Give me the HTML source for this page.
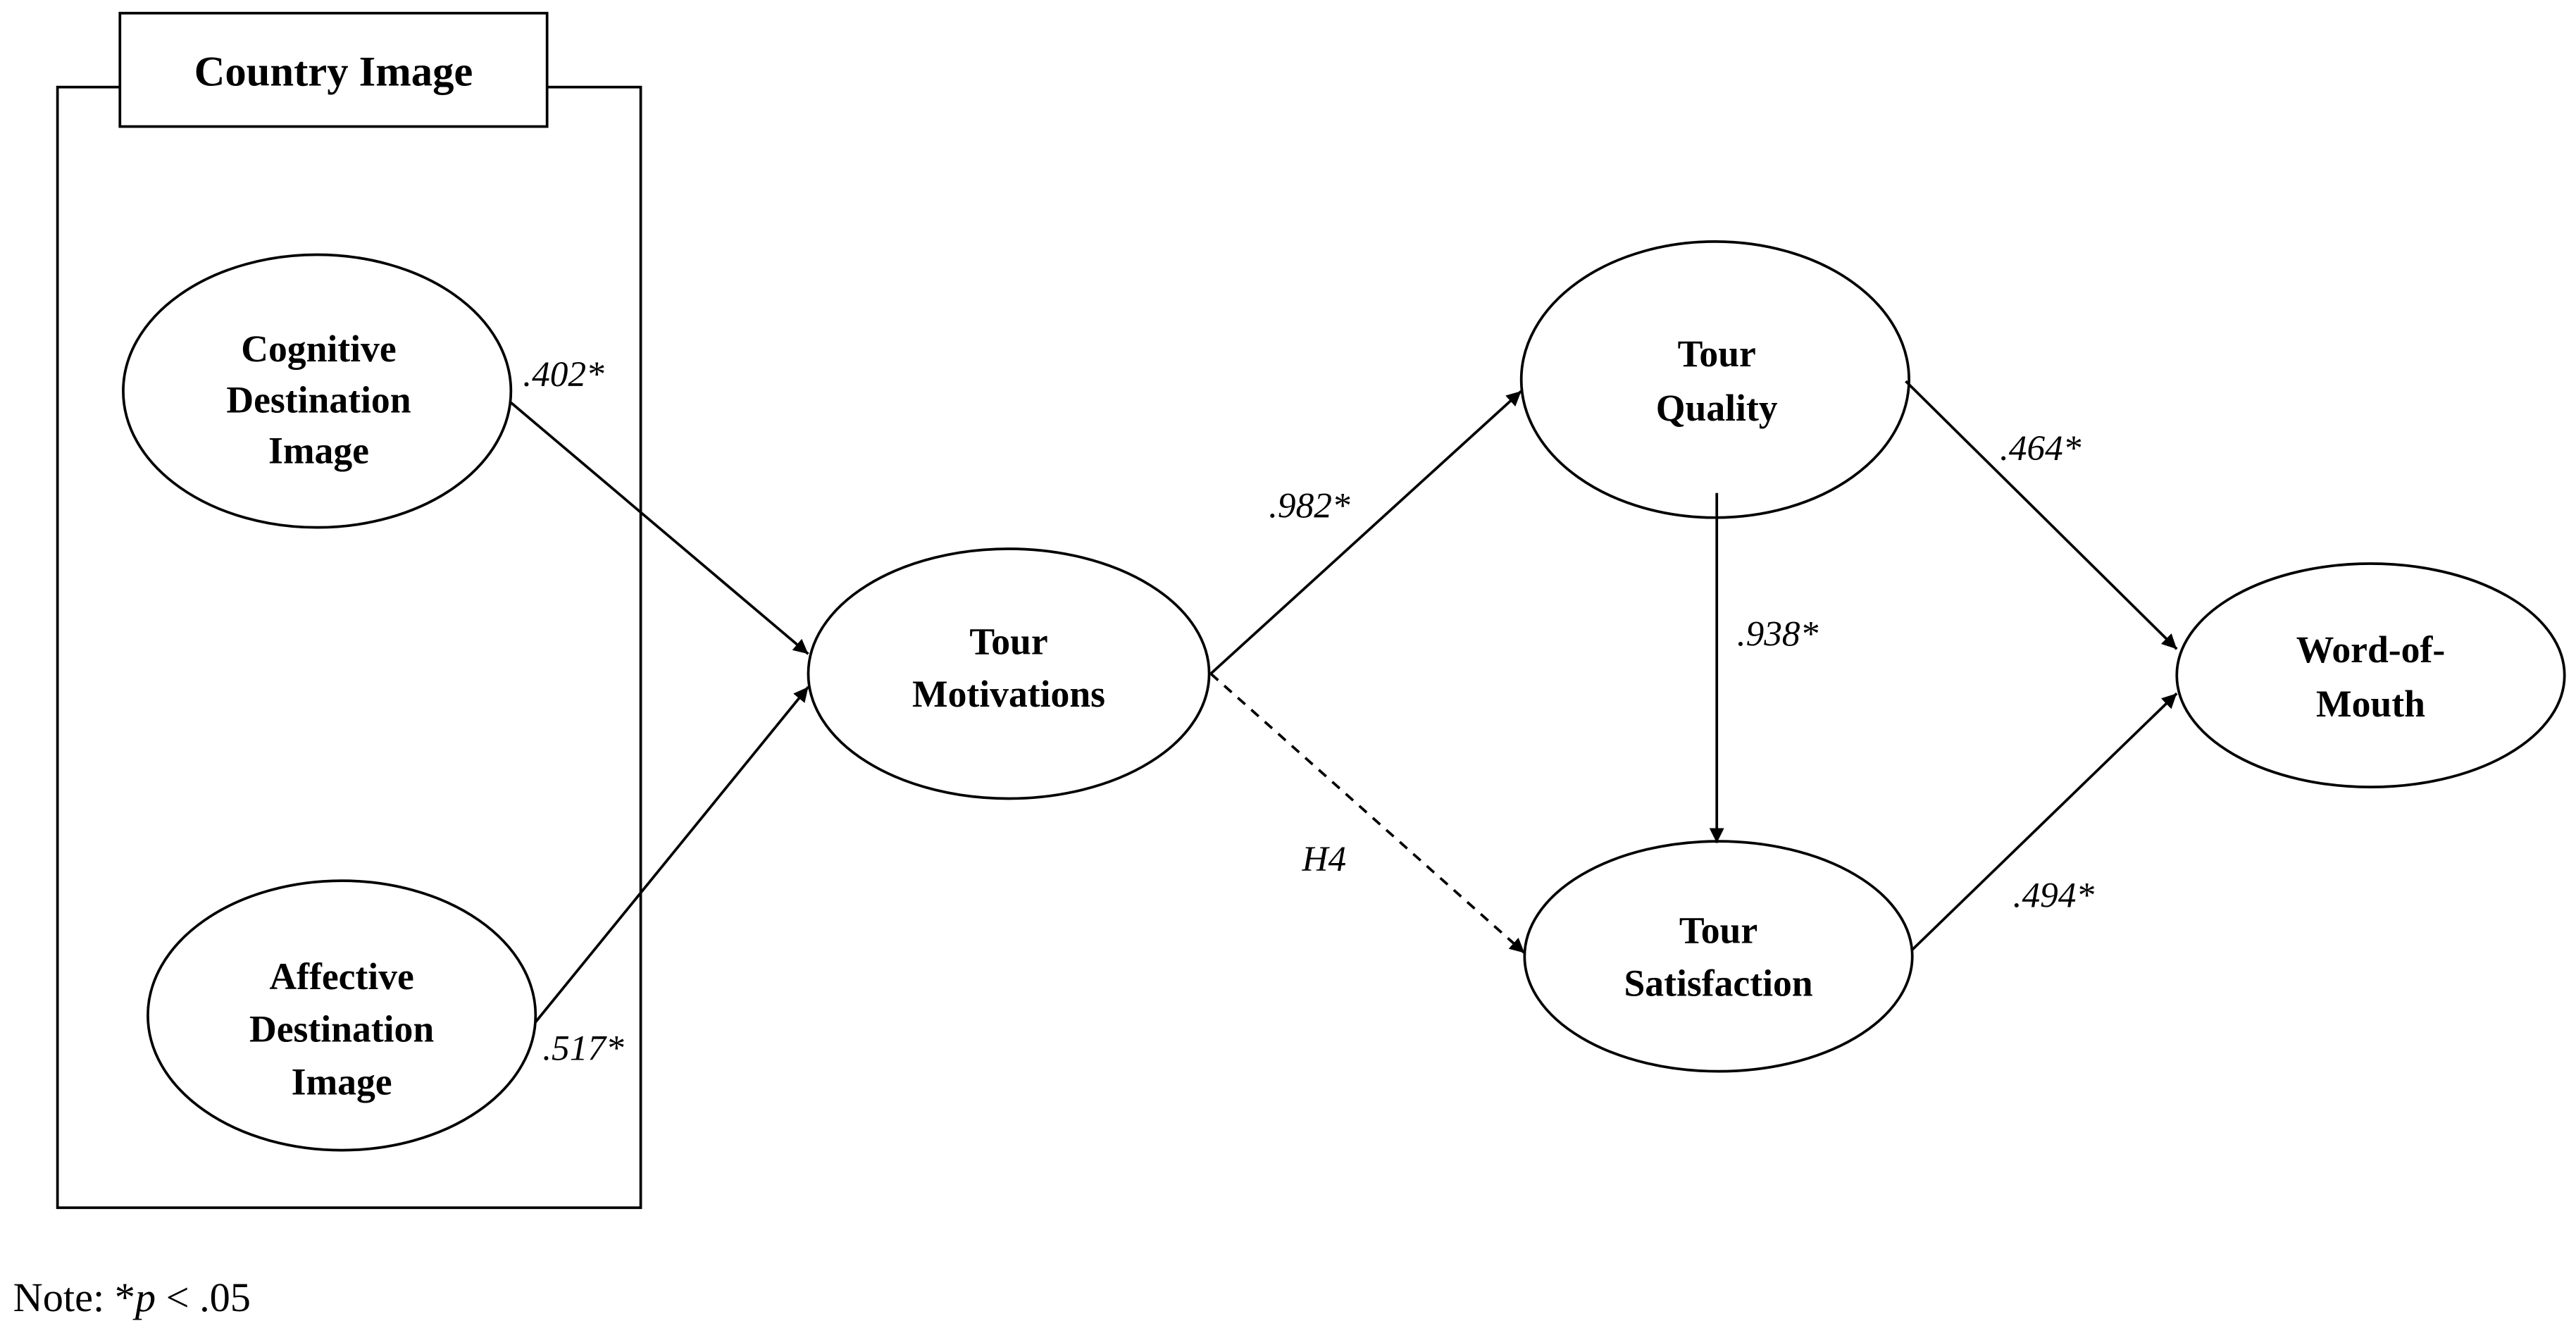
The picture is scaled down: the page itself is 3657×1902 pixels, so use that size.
<!DOCTYPE html>
<html><head><meta charset="utf-8"><style>
html,body{margin:0;padding:0;background:#fff;}
svg{display:block;}
text{font-family:"Liberation Serif",serif;fill:#000;}
.b{font-weight:bold;font-size:23px;}
.i{font-style:italic;font-size:22px;}
</style></head><body>
<svg width="3657" height="1902" viewBox="0 0 1568 815.5" xmlns="http://www.w3.org/2000/svg">
<defs>
<marker id="a" viewBox="0 0 10 10" refX="10" refY="5" markerWidth="9" markerHeight="9" markerUnits="userSpaceOnUse" orient="auto"><path d="M0,0 L10,5 L0,10 z" fill="#000"/></marker>
</defs>
<g fill="none" stroke="#000" stroke-width="1.6">
<rect x="35" y="53" width="355" height="682"/>
<rect x="73" y="8" width="260" height="69" fill="#fff"/>
<ellipse cx="193" cy="238" rx="118" ry="83"/>
<ellipse cx="208" cy="618" rx="118" ry="82"/>
<ellipse cx="614" cy="410" rx="122" ry="76"/>
<ellipse cx="1044" cy="231" rx="118" ry="84"/>
<ellipse cx="1046" cy="582" rx="118" ry="70"/>
<ellipse cx="1443" cy="411" rx="118" ry="68"/>
<line x1="311" y1="245" x2="492" y2="398" marker-end="url(#a)"/>
<line x1="326" y1="622" x2="492" y2="418" marker-end="url(#a)"/>
<line x1="737" y1="410" x2="926" y2="238" marker-end="url(#a)"/>
<line x1="737" y1="410" x2="928" y2="580" stroke-dasharray="6,5" marker-end="url(#a)"/>
<line x1="1045" y1="300" x2="1045" y2="513" marker-end="url(#a)"/>
<line x1="1160" y1="232" x2="1325" y2="395" marker-end="url(#a)"/>
<line x1="1164" y1="578" x2="1325" y2="422" marker-end="url(#a)"/>
</g>
<g text-anchor="middle">
<text x="203" y="52" class="b" style="font-size:26px">Country Image</text>
<text x="194" y="220" class="b">Cognitive</text>
<text x="194" y="251" class="b">Destination</text>
<text x="194" y="282" class="b">Image</text>
<text x="208" y="602" class="b">Affective</text>
<text x="208" y="634" class="b">Destination</text>
<text x="208" y="666" class="b">Image</text>
<text x="614" y="398" class="b">Tour</text>
<text x="614" y="430" class="b">Motivations</text>
<text x="1045" y="223" class="b">Tour</text>
<text x="1045" y="256" class="b">Quality</text>
<text x="1046" y="574" class="b">Tour</text>
<text x="1046" y="606" class="b">Satisfaction</text>
<text x="1443" y="403" class="b">Word-of-</text>
<text x="1443" y="436" class="b">Mouth</text>
<text x="343" y="235" class="i">.402*</text>
<text x="355" y="645" class="i">.517*</text>
<text x="797" y="315" class="i">.982*</text>
<text x="806" y="530" class="i">H4</text>
<text x="1082" y="393" class="i">.938*</text>
<text x="1242" y="280" class="i">.464*</text>
<text x="1250" y="552" class="i">.494*</text>
</g>
<text x="8" y="798" style="font-size:25px">Note: *<tspan font-style="italic">p</tspan> &lt; .05</text>
</svg>
</body></html>
